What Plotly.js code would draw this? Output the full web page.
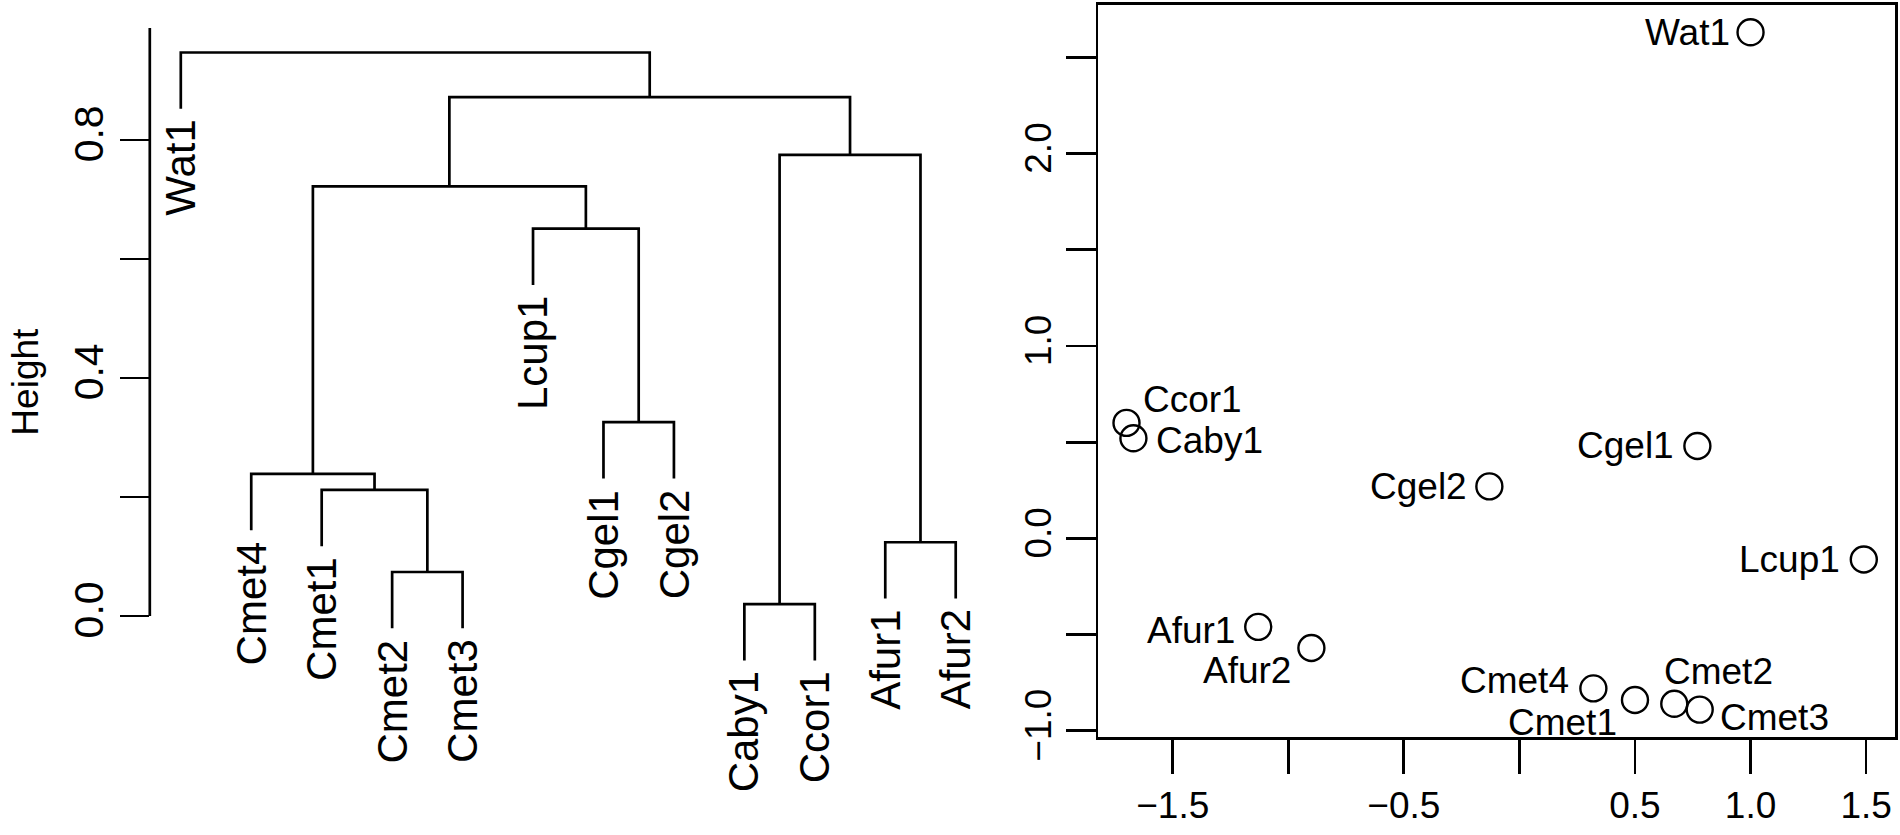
<!DOCTYPE html>
<html>
<head>
<meta charset="utf-8">
<script src="https://cdn.plot.ly/plotly-3.0.1.min.js"></script>
<style>body{margin:0;background:#fff}</style>
</head>
<body>
<div id="graph" style="width:1900px;height:835px"></div>
<script>
// dendrogram, leaves in plotted order
var leafNames = ['Wat1', 'Cmet4', 'Cmet1', 'Cmet2', 'Cmet3', 'Lcup1', 'Cgel1', 'Cgel2', 'Caby1', 'Ccor1', 'Afur1', 'Afur2'];
// merges, hclust style: a name is a leaf, a number is an earlier merge (1-based)
var mergeA = ['Caby1', 'Cmet2', 'Afur1', 'Cmet1', 'Cmet4', 'Cgel1', 'Lcup1', 5, 1, 8, 'Wat1'];
var mergeB = ['Ccor1', 'Cmet3', 'Afur2', 2, 4, 'Cgel2', 6, 7, 3, 9, 10];
var mergeHeight = [0.020, 0.074, 0.124, 0.212, 0.239, 0.326, 0.651, 0.722, 0.775, 0.872, 0.947];
var heightTicks = [0, 0.2, 0.4, 0.6, 0.8, 1.0];
var heightTickText = ['0.0', '', '0.4', '', '0.8', ''];

// ordination
var pointNames = ['Wat1', 'Ccor1', 'Caby1', 'Cgel1', 'Cgel2', 'Lcup1', 'Afur1', 'Afur2', 'Cmet4', 'Cmet1', 'Cmet2', 'Cmet3'];
var axis1 = [1.00, -1.70, -1.67, 0.77, -0.13, 1.49, -1.13, -0.90, 0.32, 0.50, 0.67, 0.78];
var axis2 = [2.63, 0.60, 0.52, 0.48, 0.27, -0.11, -0.46, -0.57, -0.78, -0.84, -0.86, -0.89];
var xTicks = [-1.5, -1, -0.5, 0, 0.5, 1, 1.5];
var xTickText = ['\u22121.5', '', '\u22120.5', '', '0.5', '1.0', '1.5'];
var yTicks = [-1, -0.5, 0, 0.5, 1, 1.5, 2, 2.5];
var yTickText = ['\u22121.0', '', '0.0', '', '1.0', '', '2.0', ''];

// where each point label sits (pixels from the point)
var labelSide = ['left', 'right', 'right', 'left', 'left', 'left', 'left', 'left', 'left', 'left', 'right', 'right'];
var labelDX = [-19, 15, 21, -21, -20, -22, -21, -18, -22, -16, -12, 18];
var labelDY = [0, 23, -2, 0, 0, 0, -4, -22, 8, -23, 32, -8];

function drawGraph() {
    var lw = 2.7;
    var hang = 0.1 * Math.max.apply(null, mergeHeight);

    var leafPos = {}, leafEnd = {};
    leafNames.forEach(function (n, i) { leafPos[n] = i + 1; });

    var nodeX = [];
    var segX = [], segY = [];

    function child(ref, h) {
        if (typeof ref === 'string') {
            leafEnd[ref] = h - hang;
            return {x: leafPos[ref], y: h - hang};
        }
        return {x: nodeX[ref - 1], y: mergeHeight[ref - 1]};
    }

    for (var i = 0; i < mergeHeight.length; i++) {
        var h = mergeHeight[i];
        var a = child(mergeA[i], h), b = child(mergeB[i], h);
        nodeX[i] = (a.x + b.x) / 2;
        segX.push(a.x, a.x, b.x, b.x, null);
        segY.push(a.y, h, h, b.y, null);
    }

    var tree = {
        x: segX, y: segY,
        type: 'scatter', mode: 'lines',
        line: {color: 'black', width: lw},
        xaxis: 'x', yaxis: 'y',
        hoverinfo: 'skip'
    };

    var pts = {
        x: axis1, y: axis2,
        type: 'scatter', mode: 'markers',
        marker: {symbol: 'circle-open', size: 26, color: 'black', line: {width: 2.4, color: 'black'}},
        xaxis: 'x2', yaxis: 'y2'
    };

    var annotations = [];
    leafNames.forEach(function (n) {
        annotations.push({
            x: leafPos[n], y: leafEnd[n], xref: 'x', yref: 'y',
            text: n, textangle: -90, showarrow: false,
            xanchor: 'center', yanchor: 'top', yshift: -9,
            font: {size: 42, color: 'black'}
        });
    });
    pointNames.forEach(function (n, i) {
        annotations.push({
            x: axis1[i], y: axis2[i], xref: 'x2', yref: 'y2',
            text: n, showarrow: false,
            xanchor: labelSide[i] === 'left' ? 'right' : 'left', yanchor: 'middle',
            xshift: labelDX[i], yshift: labelDY[i],
            font: {size: 37, color: 'black'}
        });
    });
    annotations.push({
        x: 0.0137, y: 0.543, xref: 'paper', yref: 'paper',
        text: 'Height', textangle: -90, showarrow: false,
        xanchor: 'center', yanchor: 'middle',
        font: {size: 37, color: 'black'}
    });

    var layout = {
        width: 1900, height: 835,
        margin: {l: 0, r: 0, t: 0, b: 0},
        paper_bgcolor: 'white', plot_bgcolor: 'white',
        showlegend: false,
        font: {family: '"Liberation Sans", Arial, sans-serif', color: 'black'},
        xaxis: {
            domain: [0.07884, 0.51932], range: [0.56, 12.44],
            visible: false
        },
        yaxis: {
            domain: [0.18, 0.96635], range: [-0.1154, 0.988],
            showline: false, showgrid: false, zeroline: false,
            ticks: 'outside', ticklen: 29, tickwidth: lw, tickcolor: 'black',
            tickvals: heightTicks, ticktext: heightTickText,
            tickangle: -90, tickfont: {size: 41}
        },
        xaxis2: {
            domain: [0.57805, 0.99737], range: [-1.822, 1.625], anchor: 'y2',
            showline: true, mirror: true, linewidth: lw, linecolor: 'black',
            showgrid: false, zeroline: false,
            ticks: 'outside', ticklen: 34, tickwidth: lw, tickcolor: 'black',
            tickvals: xTicks, ticktext: xTickText,
            tickfont: {size: 37}
        },
        yaxis2: {
            domain: [0.11701, 0.99401], range: [-1.034, 2.772], anchor: 'x2',
            showline: true, mirror: true, linewidth: lw, linecolor: 'black',
            showgrid: false, zeroline: false,
            ticks: 'outside', ticklen: 30, tickwidth: lw, tickcolor: 'black',
            tickvals: yTicks, ticktext: yTickText,
            tickangle: -90, tickfont: {size: 37}
        },
        shapes: [{
            type: 'line', xref: 'x domain', yref: 'y',
            x0: 0, x1: 0, y0: 0, y1: 1,
            line: {color: 'black', width: lw}
        }],
        annotations: annotations
    };

    Plotly.newPlot('graph', [tree, pts], layout, {displayModeBar: false, staticPlot: true});
}

drawGraph();
</script>
</body>
</html>
